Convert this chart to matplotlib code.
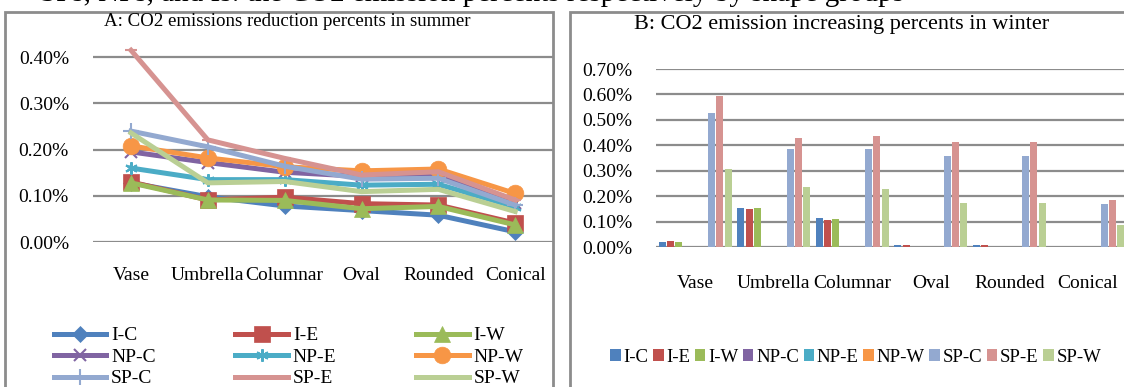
import numpy as np
import matplotlib
matplotlib.use("Agg")
import matplotlib.pyplot as plt
from matplotlib.patches import Rectangle, Patch

plt.rcParams['font.family'] = ['Liberation Serif', 'DejaVu Serif']

shapes = ["Vase", "Umbrella", "Columnar", "Oval", "Rounded", "Conical"]
series = ["I-C", "I-E", "I-W", "NP-C", "NP-E", "NP-W", "SP-C", "SP-E", "SP-W"]
colors = ["#4F81BD", "#C0504D", "#9BBB59", "#8064A2", "#4BACC6", "#F79646",
          "#93A9D0", "#D69391", "#BACF94"]

# A: reduction percents in summer (%)
summer_ic = [0.128, 0.098, 0.078, 0.068, 0.058, 0.022]
summer_ie = [0.130, 0.091, 0.097, 0.083, 0.080, 0.041]
summer_iw = [0.128, 0.091, 0.090, 0.072, 0.077, 0.037]
summer_npc = [0.195, 0.172, 0.151, 0.142, 0.145, 0.085]
summer_npe = [0.160, 0.135, 0.135, 0.123, 0.125, 0.076]
summer_npw = [0.208, 0.182, 0.163, 0.154, 0.158, 0.105]
summer_spc = [0.240, 0.206, 0.164, 0.136, 0.138, 0.080]
summer_spe = [0.415, 0.221, 0.181, 0.145, 0.152, 0.091]
summer_spw = [0.236, 0.128, 0.131, 0.109, 0.114, 0.066]

# B: increasing percents in winter (%)
winter_ic = [0.018, 0.154, 0.114, 0.008, 0.008, 0.0]
winter_ie = [0.022, 0.150, 0.106, 0.008, 0.008, 0.0]
winter_iw = [0.018, 0.154, 0.110, 0.0, 0.0, 0.0]
winter_npc = [0.0, 0.0, 0.0, 0.0, 0.0, 0.0]
winter_npe = [0.0, 0.0, 0.0, 0.0, 0.0, 0.0]
winter_npw = [0.0, 0.0, 0.0, 0.0, 0.0, 0.0]
winter_spc = [0.528, 0.386, 0.386, 0.358, 0.358, 0.169]
winter_spe = [0.594, 0.429, 0.437, 0.413, 0.413, 0.185]
winter_spw = [0.307, 0.236, 0.228, 0.173, 0.173, 0.087]

summer = [summer_ic, summer_ie, summer_iw, summer_npc, summer_npe, summer_npw,
          summer_spc, summer_spe, summer_spw]
winter = [winter_ic, winter_ie, winter_iw, winter_npc, winter_npe, winter_npw,
          winter_spc, winter_spe, winter_spw]

W, H = 1124, 387
fig = plt.figure(figsize=(W / 100, H / 100), dpi=100)
grid_c = "#8C8C8C"


def fx(px):
    return px / W


def fy(py):
    return 1 - py / H


# panel frames
fig.patches.append(Rectangle((fx(5), fy(500)), fx(548), (500 - 12) / H,
                             transform=fig.transFigure, fill=False,
                             edgecolor=grid_c, lw=2, zorder=0))
fig.patches.append(Rectangle((fx(570), fy(500)), fx(700), (500 - 12) / H,
                             transform=fig.transFigure, fill=False,
                             edgecolor=grid_c, lw=2, zorder=0))

# bottom of the caption line above the panels (cut off in the source too)
fig.text(fx(40), fy(1), "SPs, NPs, and Is: the CO2 emission percents respectively by shape groups",
         fontsize=21, va="baseline", ha="left", color="black")

# ---- panel A
axA = fig.add_axes([fx(92.6), fy(242), 461 / W, 0.45 * 462 / H])
x = np.arange(len(shapes))
markers = ["D", "s", "^", "x", (6, 2, 0), "o", "+", "_", None]
msizes = [8, 11, 12, 8, 9, 12, 11, 9, 0]
for i, name in enumerate(series):
    axA.plot(x, summer[i], color=colors[i], lw=3.6, marker=markers[i],
             ms=msizes[i], mew=1.5 if i in (3, 4, 6, 7) else 0.5,
             mfc=colors[i], mec=colors[i], label=name, zorder=3 + i,
             solid_joinstyle="miter")
axA.set_xlim(-0.5, 5.5)
axA.set_ylim(0, 0.45)
axA.set_yticks([0, 0.1, 0.2, 0.3, 0.4])
axA.set_yticklabels(["%.2f%%" % v for v in [0, 0.1, 0.2, 0.3, 0.4]])
axA.set_xticks(x)
axA.set_xticklabels(shapes)
axA.yaxis.grid(True, color=grid_c, lw=1.6)
axA.set_axisbelow(True)
for s in axA.spines.values():
    s.set_visible(False)
axA.tick_params(length=0, labelsize=14)
axA.tick_params(axis="y", pad=17)
axA.tick_params(axis="x", pad=18)
axA.patch.set_alpha(0)
fig.text(fx(287), fy(22), "A: CO2 emissions reduction percents in summer",
         ha="center", va="center", fontsize=13.6)

hA, lA = axA.get_legend_handles_labels()
order = [0, 3, 6, 1, 4, 7, 2, 5, 8]
fig.legend([hA[k] for k in order], [lA[k] for k in order], ncol=3,
           loc="upper left", bbox_to_anchor=(fx(44), fy(317)),
           frameon=False, fontsize=14, handlelength=2.7,
           handletextpad=0.25, columnspacing=4.1, labelspacing=0.2,
           borderpad=0)

# ---- panel B
axB = fig.add_axes([fx(656), fy(247), 471 / W, 178 / H])
nb = len(series)
slot = 0.94 / nb
for i, name in enumerate(series):
    axB.bar(x - 0.47 + slot * (i + 0.5), winter[i], width=slot * 0.86,
            color=colors[i], label=name, zorder=3)
axB.set_xlim(-0.5, 5.5)
axB.set_ylim(0, 0.7)
yt = np.arange(0, 0.71, 0.1)
axB.set_yticks(yt)
axB.set_yticklabels(["%.2f%%" % v for v in yt])
axB.set_xticks(x)
axB.set_xticklabels(shapes)
axB.yaxis.grid(True, color=grid_c, lw=1.6)
axB.set_axisbelow(True)
for s in axB.spines.values():
    s.set_visible(False)
axB.tick_params(length=0, labelsize=14)
axB.tick_params(axis="y", pad=17)
axB.tick_params(axis="x", pad=20)
axB.patch.set_alpha(0)
fig.text(fx(842), fy(25), "B: CO2 emission increasing percents in winter",
         ha="center", va="center", fontsize=16)

hB = [Patch(facecolor=c, edgecolor="none") for c in colors]
fig.legend(hB, series, ncol=9, loc="center left",
           bbox_to_anchor=(fx(601), fy(357)), frameon=False, fontsize=13.5,
           handlelength=0.55, handleheight=0.55, handletextpad=0.15,
           columnspacing=0.25, borderpad=0)

fig.savefig("out.png", dpi=100)
